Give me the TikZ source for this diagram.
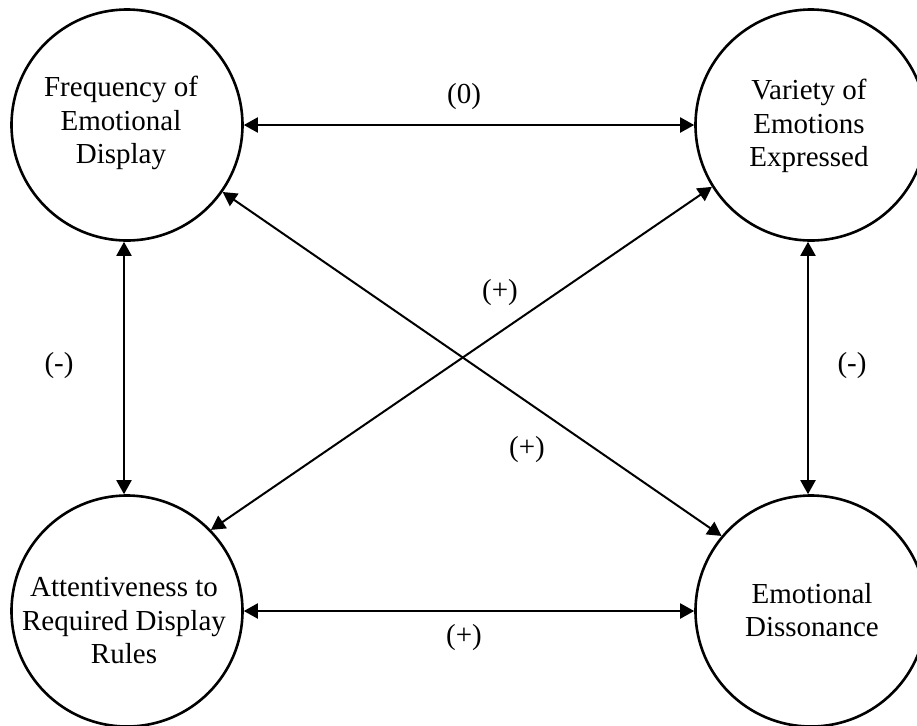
\documentclass[tikz,border=0pt]{standalone}
\usepackage{fontspec}
\setmainfont{Liberation Serif}
\usetikzlibrary{arrows.meta}
\tikzset{
  circ/.style={circle, draw, line width=1.3pt, minimum size=115.5pt, inner sep=0pt},
  txt/.style={align=center, inner sep=0pt, font=\fontsize{14.5pt}{16.75pt}\selectfont},
  lab/.style={inner sep=0pt, font=\fontsize{14.5pt}{16.75pt}\selectfont},
  conn/.style={>={Triangle[length=7pt,width=7.5pt]}, <->, line width=1pt}
}
\begin{document}
\begin{tikzpicture}[x=0.5pt,y=-0.5pt]
\useasboundingbox (0,0) rectangle (917,725);
\node[circ] (tl) at (127,125) {};
\node[circ] (tr) at (811,125) {};
\node[circ] (bl) at (127,611) {};
\node[circ] (br) at (811,611) {};
\node[txt] (tlt) at (121,123) {Frequency of\\Emotional\\Display};
\node[txt] (trt) at (809,126) {Variety of\\Emotions\\Expressed};
\node[txt] (blt) at (124,621) {Attentiveness to\\Required Display\\Rules};
\node[txt] (brt) at (812,610) {Emotional\\Dissonance};
\draw[conn] (tl.east) -- (tr.west);
\draw[conn] (bl.east) -- (br.west);
\draw[conn] ([xshift=-1.5pt]tl.south) -- ([xshift=-1.5pt]bl.north);
\draw[conn] ([xshift=-1.5pt]tr.south) -- ([xshift=-1.5pt]br.north);
\draw[conn] (tl.-35) -- (br.140);
\draw[conn] (bl.44) -- (tr.212);
\node[lab] (l0) at (464,97) {(0)};
\node[lab] (lp1) at (500,293) {(+)};
\node[lab] (lp2) at (527,450) {(+)};
\node[lab] (lm1) at (59,366) {(-)};
\node[lab] (lm2) at (852,366) {(-)};
\node[lab] (lp3) at (464,638) {(+)};
\end{tikzpicture}
\end{document}
